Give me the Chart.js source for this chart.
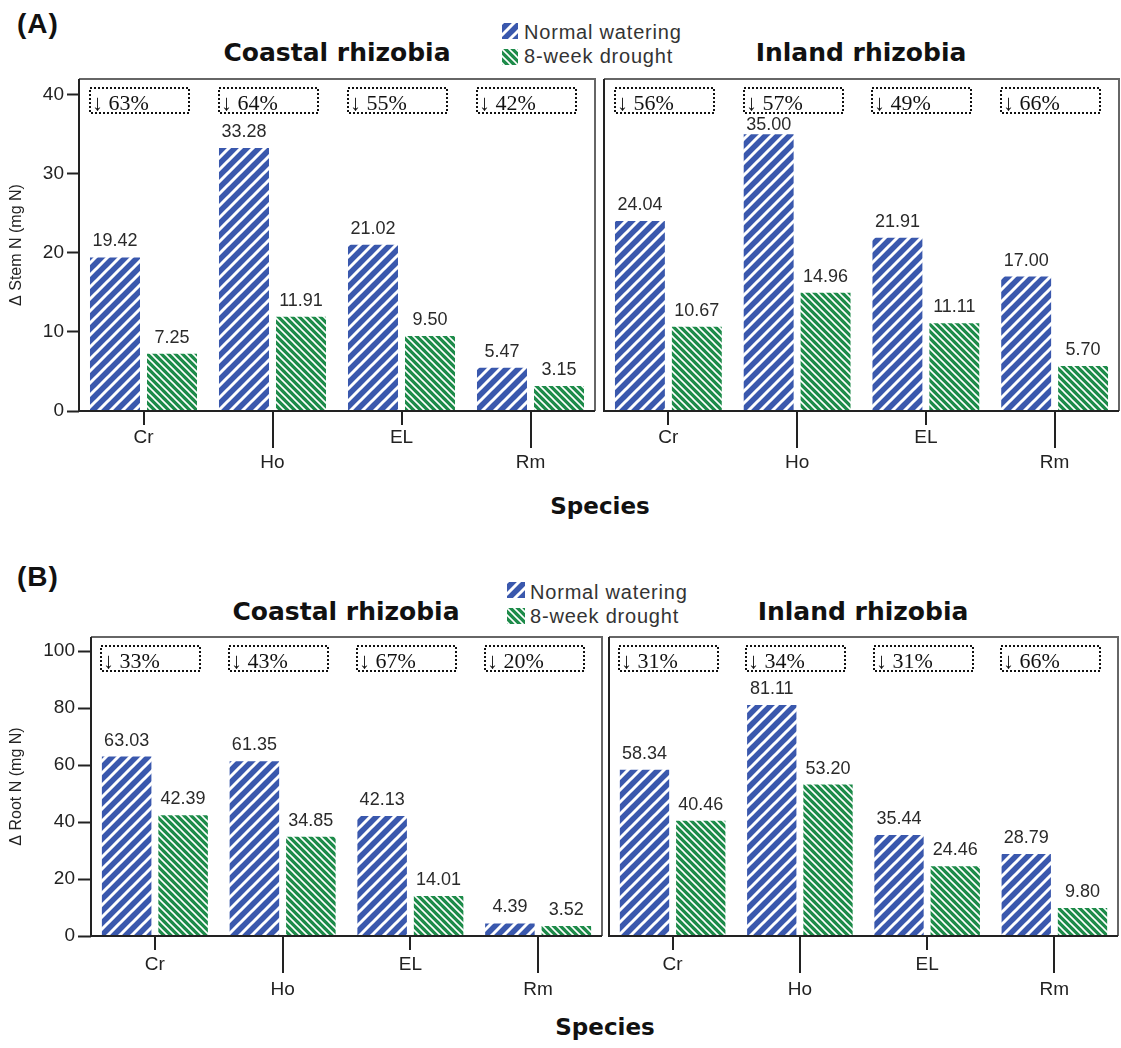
<!DOCTYPE html>
<html>
<head>
<meta charset="utf-8">
<script src="https://cdn.jsdelivr.net/npm/chart.js@4.4.1/dist/chart.umd.min.js"></script>
<style>
  html, body { margin: 0; padding: 0; background: #fff; overflow: hidden; }
  #page { position: relative; width: 1121px; height: 1048px; }
  #page canvas { position: absolute; }
  .tag { position: absolute; font: bold 28px 'Liberation Sans', Arial, sans-serif; line-height: 1; letter-spacing: 1px; color: #111; }
  .title { position: absolute; font: bold 25px 'DejaVu Sans', Verdana, sans-serif; line-height: 1; color: #111; transform: translateX(-50%); white-space: nowrap; }
  .axis-name { position: absolute; font: bold 23px 'DejaVu Sans', Verdana, sans-serif; line-height: 1; color: #111; transform: translateX(-50%); }
  .key { position: absolute; font: 20px 'Liberation Sans', Arial, sans-serif; line-height: 1; letter-spacing: 0.8px; color: #333; white-space: nowrap; }
</style>
</head>
<body>
<div id="page">
  <div class="tag" style="left:17px;top:10px">(A)</div>
  <div class="title" style="left:337px;top:40px">Coastal rhizobia</div>
  <div class="title" style="left:861px;top:40px">Inland rhizobia</div>
  <canvas class="swatch-normal" width="16" height="16" style="left:502px;top:23px"></canvas>
  <div class="key" style="left:524px;top:22px">Normal watering</div>
  <canvas class="swatch-drought" width="16" height="16" style="left:502px;top:49px"></canvas>
  <div class="key" style="left:524px;top:46px">8-week drought</div>
  <canvas id="stemCoastal" width="597" height="404" style="left:0;top:77px"></canvas>
  <canvas id="stemInland" width="519" height="404" style="left:602px;top:77px"></canvas>
  <div class="axis-name" style="left:600px;top:495px">Species</div>

  <div class="tag" style="left:17px;top:563px">(B)</div>
  <div class="title" style="left:346px;top:599px">Coastal rhizobia</div>
  <div class="title" style="left:863px;top:599px">Inland rhizobia</div>
  <canvas class="swatch-normal" width="18" height="16" style="left:507px;top:582px"></canvas>
  <div class="key" style="left:530px;top:582px">Normal watering</div>
  <canvas class="swatch-drought" width="18" height="16" style="left:507px;top:608px"></canvas>
  <div class="key" style="left:530px;top:606px">8-week drought</div>
  <canvas id="rootCoastal" width="604" height="371" style="left:0;top:635px"></canvas>
  <canvas id="rootInland" width="513" height="371" style="left:607px;top:635px"></canvas>
  <div class="axis-name" style="left:605px;top:1016px">Species</div>
</div>

<script>
const species = ['Cr', 'Ho', 'EL', 'Rm'];
const seriesNames = ['Normal watering', '8-week drought'];

// stem N gain (mg N)
const stemCoastalNormal = [19.42, 33.28, 21.02, 5.47];
const stemCoastalDrought = [7.25, 11.91, 9.50, 3.15];
const stemInlandNormal = [24.04, 35.00, 21.91, 17.00];
const stemInlandDrought = [10.67, 14.96, 11.11, 5.70];

// root N gain (mg N)
const rootCoastalNormal = [63.03, 61.35, 42.13, 4.39];
const rootCoastalDrought = [42.39, 34.85, 14.01, 3.52];
const rootInlandNormal = [58.34, 81.11, 35.44, 28.79];
const rootInlandDrought = [40.46, 53.20, 24.46, 9.80];

// drought reduction per species
const stemCoastalDrop = ['63%', '64%', '55%', '42%'];
const stemInlandDrop = ['56%', '57%', '49%', '66%'];
const rootCoastalDrop = ['33%', '43%', '67%', '20%'];
const rootInlandDrop = ['31%', '34%', '31%', '66%'];

const stemTicks = [0, 10, 20, 30, 40];
const rootTicks = [0, 20, 40, 60, 80, 100];

const BLUE = '#3a58ad';
const GREEN = '#1d8b49';

Chart.defaults.font.family = "'Liberation Sans', Arial, sans-serif";
Chart.defaults.color = '#222';

// hatch tiles: wide "/" stripes for watering, fine "\" stripes for drought
function hatch(size, bg, width, backslash) {
    const tile = document.createElement('canvas');
    tile.width = size;
    tile.height = size;
    const c = tile.getContext('2d');
    c.fillStyle = bg;
    c.fillRect(0, 0, size, size);
    if (backslash) {
        c.translate(size, 0);
        c.scale(-1, 1);
    }
    c.strokeStyle = '#fff';
    c.lineWidth = width;
    c.beginPath();
    c.moveTo(0, size); c.lineTo(size, 0);
    c.moveTo(-size / 2, size / 2); c.lineTo(size / 2, -size / 2);
    c.moveTo(size / 2, size * 1.5); c.lineTo(size * 1.5, size / 2);
    c.stroke();
    return document.createElement('canvas').getContext('2d').createPattern(tile, 'repeat');
}

const bluePattern = hatch(12, BLUE, 3, false);
const greenPattern = hatch(7, GREEN, 1.6, true);

document.querySelectorAll('.swatch-normal, .swatch-drought').forEach(sw => {
    const c = sw.getContext('2d');
    c.fillStyle = sw.classList.contains('swatch-normal') ? bluePattern : greenPattern;
    c.fillRect(0, 0, sw.width, sw.height);
});

// frame, staggered x ticks, bar values and the dotted drop boxes
const panelFrame = {
    id: 'panelFrame',
    afterDraw(chart, args, opts) {
        const { ctx, chartArea: a } = chart;
        const x = chart.scales.x;
        ctx.save();

        ctx.lineWidth = 2;
        ctx.strokeStyle = '#222';
        species.forEach((s, i) => {
            const px = Math.round(x.getPixelForTick(i));
            ctx.beginPath();
            ctx.moveTo(px, a.bottom);
            ctx.lineTo(px, a.bottom + (i % 2 ? 37 : 14));
            ctx.stroke();
        });

        const l = Math.round(a.left), t = Math.round(a.top);
        const r = Math.round(a.right), b = Math.round(a.bottom);
        ctx.strokeStyle = '#666';
        ctx.beginPath();
        ctx.moveTo(l, t); ctx.lineTo(r, t); ctx.lineTo(r, b);
        ctx.stroke();
        ctx.strokeStyle = '#222';
        ctx.beginPath();
        ctx.moveTo(l, t); ctx.lineTo(l, b); ctx.lineTo(r, b);
        ctx.stroke();

        const boxTop = t + 9;
        const boxH = 25;

        // value above each bar, kept clear of the drop boxes
        ctx.fillStyle = '#2a2a2a';
        ctx.font = "18px 'Liberation Sans', Arial, sans-serif";
        ctx.textAlign = 'center';
        ctx.textBaseline = 'alphabetic';
        chart.data.datasets.forEach((ds, di) => {
            chart.getDatasetMeta(di).data.forEach((bar, i) => {
                const y = Math.max(bar.y - 11, boxTop + boxH + 17);
                ctx.fillText(ds.data[i].toFixed(2), bar.x, y);
            });
        });

        ctx.strokeStyle = '#111';
        ctx.fillStyle = '#111';
        ctx.setLineDash([2, 2]);
        ctx.font = "22px 'Liberation Serif', 'DejaVu Serif', serif";
        ctx.textAlign = 'left';
        opts.drops.forEach((d, i) => {
            const bx = Math.round(x.getPixelForTick(i) - 4 - 49.5);
            ctx.strokeRect(bx, boxTop, 99, boxH);
            ctx.fillText('\u2193 ' + d, bx + 2, boxTop + 22);
        });
        ctx.restore();
    }
};

function makePanel(id, normal, drought, drops, tickValues, max, opts) {
    return new Chart(document.getElementById(id), {
        type: 'bar',
        data: {
            labels: species,
            datasets: [
                { label: seriesNames[0], data: normal, backgroundColor: bluePattern, borderWidth: 0 },
                { label: seriesNames[1], data: drought, backgroundColor: greenPattern, borderWidth: 0 }
            ]
        },
        options: {
            responsive: false,
            animation: false,
            events: [],
            datasets: { bar: { categoryPercentage: 0.884, barPercentage: 0.877 } },
            layout: { padding: { top: 2, right: 2, bottom: 0, left: opts.padLeft } },
            plugins: {
                legend: { display: false },
                tooltip: { enabled: false },
                panelFrame: { drops: drops }
            },
            scales: {
                x: {
                    grid: { display: false, drawTicks: false },
                    border: { display: false },
                    ticks: {
                        autoSkip: false,
                        maxRotation: 0,
                        padding: opts.labelPad,
                        color: '#222',
                        font: { size: 19, lineHeight: 25 / 19 },
                        callback: (v, i) => i % 2 ? ['', species[i]] : species[i]
                    },
                    afterFit: s => { s.height = 70; s.paddingLeft = 0; s.paddingRight = 0; }
                },
                y: {
                    display: opts.showY,
                    min: 0,
                    max: max,
                    grid: { drawOnChartArea: false, drawTicks: true, tickLength: opts.tickLen, tickColor: '#222', tickWidth: 2 },
                    border: { display: false },
                    ticks: { color: '#222', font: { size: 19 }, padding: 3 },
                    title: { display: true, text: opts.yTitle, color: '#222', font: { size: 16 }, padding: { top: 7, bottom: 0 } },
                    afterBuildTicks: s => { s.ticks = tickValues.map(v => ({ value: v })); },
                    afterFit: s => { s.width = opts.yWidth; s.paddingTop = 0; s.paddingBottom = 0; }
                }
            }
        },
        plugins: [panelFrame]
    });
}

makePanel('stemCoastal', stemCoastalNormal, stemCoastalDrought, stemCoastalDrop, stemTicks, 42,
    { showY: true, yWidth: 79, padLeft: 0, tickLen: 12, labelPad: 14, yTitle: '\u0394 Stem N (mg N)' });
makePanel('stemInland', stemInlandNormal, stemInlandDrought, stemInlandDrop, stemTicks, 42,
    { showY: false, yWidth: 0, padLeft: 2, tickLen: 12, labelPad: 14, yTitle: '' });
makePanel('rootCoastal', rootCoastalNormal, rootCoastalDrought, rootCoastalDrop, rootTicks, 105,
    { showY: true, yWidth: 91, padLeft: 0, tickLen: 13, labelPad: 16, yTitle: '\u0394 Root N (mg N)' });
makePanel('rootInland', rootInlandNormal, rootInlandDrought, rootInlandDrop, rootTicks, 105,
    { showY: false, yWidth: 0, padLeft: 2, tickLen: 13, labelPad: 16, yTitle: '' });
</script>
</body>
</html>
